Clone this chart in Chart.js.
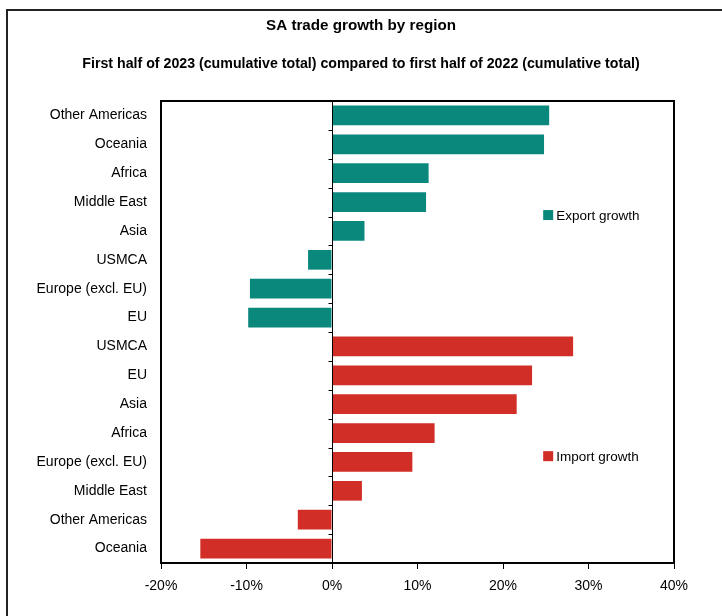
<!DOCTYPE html>
<html>
<head>
<meta charset="utf-8">
<script src="https://cdn.jsdelivr.net/npm/chart.js@4.4.0/dist/chart.umd.min.js"></script>
<style>
  html, body { margin: 0; padding: 0; background: #fff; }
  #wrap { position: relative; width: 722px; height: 616px; }
</style>
</head>
<body>
<div id="wrap"><canvas id="trade-chart" width="722" height="616"></canvas></div>
<script>
  // categories top to bottom
  const regions = [
    "Other Americas", "Oceania", "Africa", "Middle East", "Asia", "USMCA", "Europe (excl. EU)", "EU",
    "USMCA", "EU", "Asia", "Africa", "Europe (excl. EU)", "Middle East", "Other Americas", "Oceania"
  ];
  // % change, H1 2023 vs H1 2022
  const exportGrowth = [25.4, 24.8, 11.3, 11.0, 3.8, -2.8, -9.6, -9.8,
    null, null, null, null, null, null, null, null];
  const importGrowth = [null, null, null, null, null, null, null, null,
    28.2, 23.4, 21.6, 12.0, 9.4, 3.5, -4.0, -15.4];
  const xTicks = [-20, -10, 0, 10, 20, 30, 40];

  const titleText = "SA trade growth by region";
  const subtitleText = "First half of 2023 (cumulative total) compared to first half of 2022 (cumulative total)";

  const FONT = "'Liberation Sans', Arial, sans-serif";
  const TEAL = "#0a887c";
  const RED = "#d12e27";

  // frame, titles, plot border, zero line ticks, legend boxes
  const decor = {
    id: "decor",
    afterDatasetsDraw(chart){
      const ctx = chart.ctx;
      const a = chart.chartArea;
      const x = chart.scales.x, y = chart.scales.y;
      ctx.save();
      // outer frame (cropped at right / bottom)
      ctx.strokeStyle = "#222";
      ctx.lineWidth = 2;
      ctx.beginPath();
      ctx.moveTo(7, chart.height + 2);
      ctx.lineTo(7, 10);
      ctx.lineTo(chart.width + 2, 10);
      ctx.stroke();
      // titles
      ctx.fillStyle = "#000";
      ctx.textAlign = "center";
      ctx.textBaseline = "middle";
      ctx.font = "bold 15.2px " + FONT;
      ctx.fillText(titleText, chart.width / 2, 26);
      ctx.font = "bold 14.2px " + FONT;
      ctx.fillText(subtitleText, chart.width / 2, 64);
      // plot border
      ctx.strokeStyle = "#000";
      ctx.lineWidth = 2;
      ctx.strokeRect(a.left, a.top, a.right - a.left, a.bottom - a.top);
      // category axis crossing at 0
      const x0 = Math.round(x.getPixelForValue(0)) + 0.5;
      ctx.lineWidth = 1;
      ctx.beginPath();
      ctx.moveTo(x0, a.top);
      ctx.lineTo(x0, a.bottom);
      for (let i = 1; i < regions.length; i++) {
        const yy = Math.round((y.getPixelForValue(i - 1) + y.getPixelForValue(i)) / 2) + 0.5;
        ctx.moveTo(x0 - 4, yy);
        ctx.lineTo(x0, yy);
      }
      ctx.stroke();
      // legend entries placed inside plot
      const items = [
        { text: "Export growth", color: TEAL, idx: 3.45 },
        { text: "Import growth", color: RED, idx: 11.8 }
      ];
      const lx = x.getPixelForValue(24.7);
      ctx.font = "13.5px " + FONT;
      ctx.textAlign = "left";
      items.forEach(it => {
        const cy = y.getPixelForValue(it.idx);
        ctx.fillStyle = it.color;
        ctx.fillRect(lx, cy - 5, 10, 10);
        ctx.fillStyle = "#000";
        ctx.fillText(it.text, lx + 13, cy + 1);
      });
      ctx.restore();
    }
  };

  new Chart(document.getElementById("trade-chart"), {
    type: "bar",
    data: {
      labels: regions,
      datasets: [
        { label: "Export growth", data: exportGrowth, backgroundColor: TEAL, grouped: false,
          barPercentage: 0.68, categoryPercentage: 1 },
        { label: "Import growth", data: importGrowth, backgroundColor: RED, grouped: false,
          barPercentage: 0.68, categoryPercentage: 1 }
      ]
    },
    options: {
      indexAxis: "y",
      responsive: false,
      animation: false,
      layout: { padding: { left: 0, right: 48, top: 101, bottom: 0 } },
      plugins: {
        legend: { display: false },
        tooltip: { enabled: false },
        title: { display: false }
      },
      scales: {
        x: {
          type: "linear",
          min: -20, max: 40,
          afterBuildTicks(scale){ scale.ticks = xTicks.map(v => ({ value: v })); },
          afterFit(scale){ scale.height = 53; },
          ticks: {
            color: "#000",
            font: { family: FONT, size: 14 },
            padding: 9,
            callback: v => v + "%"
          },
          grid: { drawOnChartArea: false, drawTicks: true, tickLength: 6, color: "#000", tickWidth: 1 },
          border: { display: false }
        },
        y: {
          afterFit(scale){ scale.width = 161; },
          ticks: {
            color: "#000",
            font: { family: FONT, size: 14 },
            padding: 14,
            autoSkip: false
          },
          grid: { display: false, drawTicks: false },
          border: { display: false }
        }
      }
    },
    plugins: [decor]
  });
</script>
</body>
</html>
